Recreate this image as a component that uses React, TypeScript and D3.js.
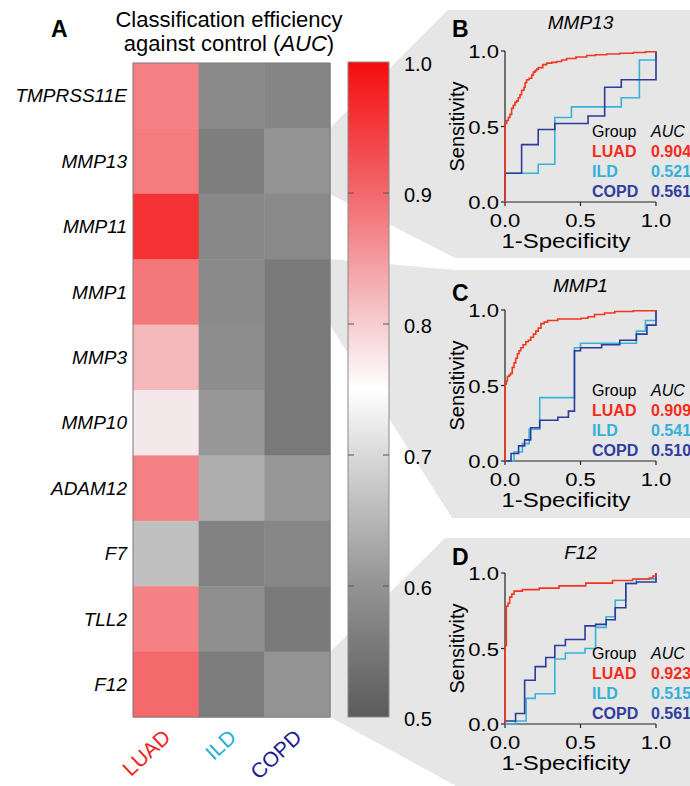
import React from "react";
import * as d3 from "d3";

// heatmap data (AUC vs control)
const genes = ["TMPRSS11E", "MMP13", "MMP11", "MMP1", "MMP3", "MMP10", "ADAM12", "F7", "TLL2", "F12"];
const groups = ["LUAD", "ILD", "COPD"];
const luadAuc = [0.9, 0.904, 0.976, 0.909, 0.846, 0.799, 0.9, 0.644, 0.898, 0.923];
const ildAuc = [0.542, 0.521, 0.538, 0.541, 0.547, 0.566, 0.608, 0.527, 0.549, 0.515];
const copdAuc = [0.532, 0.561, 0.54, 0.51, 0.51, 0.51, 0.566, 0.536, 0.512, 0.561];
const colorbarTicks = [0.5, 0.6, 0.7, 0.8, 0.9, 1.0];

// ROC curves, points are [1-specificity, sensitivity] (step after)
const rocGenes = ["MMP13", "MMP1", "F12"];
const rocLetters = ["B", "C", "D"];
const rocTicks = [0, 0.5, 1];
const luadRoc = [
  [[0, 0], [0, 0.52], [0.011, 0.54], [0.022, 0.56], [0.033, 0.58], [0.044, 0.62], [0.055, 0.64], [0.066, 0.66], [0.077, 0.67], [0.088, 0.69], [0.099, 0.71], [0.11, 0.74], [0.126, 0.76], [0.133, 0.79], [0.143, 0.81], [0.16, 0.82], [0.177, 0.84], [0.188, 0.86], [0.199, 0.87], [0.21, 0.88], [0.221, 0.89], [0.25, 0.91], [0.276, 0.92], [0.31, 0.925], [0.342, 0.93], [0.375, 0.94], [0.408, 0.95], [0.47, 0.96], [0.541, 0.97], [0.6, 0.975], [0.673, 0.98], [0.76, 0.985], [0.85, 0.99], [0.93, 0.995], [1, 1]],
  [[0, 0], [0, 0.51], [0.009, 0.53], [0.016, 0.56], [0.027, 0.57], [0.037, 0.58], [0.048, 0.62], [0.06, 0.65], [0.071, 0.68], [0.082, 0.71], [0.093, 0.73], [0.104, 0.75], [0.12, 0.77], [0.138, 0.79], [0.155, 0.8], [0.171, 0.82], [0.188, 0.84], [0.204, 0.86], [0.22, 0.88], [0.238, 0.91], [0.26, 0.92], [0.282, 0.93], [0.349, 0.94], [0.45, 0.94], [0.504, 0.945], [0.55, 0.955], [0.593, 0.97], [0.66, 0.98], [0.727, 0.99], [0.85, 0.995], [1, 1]],
  [[0, 0], [0, 0.52], [0.009, 0.78], [0.02, 0.8], [0.031, 0.84], [0.045, 0.86], [0.06, 0.88], [0.115, 0.89], [0.226, 0.9], [0.358, 0.915], [0.535, 0.933], [0.712, 0.95], [0.845, 0.96], [0.956, 0.967], [0.98, 0.98], [1, 1]],
];
const ildRoc = [
  [[0, 0], [0, 0.19], [0.22, 0.25], [0.33, 0.56], [0.44, 0.63], [0.77, 0.69], [0.89, 0.94], [1, 1]],
  [[0, 0], [0.06, 0.06], [0.115, 0.115], [0.16, 0.21], [0.23, 0.42], [0.46, 0.75], [0.5, 0.78], [0.87, 0.86], [0.93, 0.93], [1, 1]],
  [[0, 0], [0.07, 0.02], [0.14, 0.17], [0.2, 0.2], [0.33, 0.43], [0.4, 0.47], [0.53, 0.5], [0.6, 0.64], [0.67, 0.71], [0.73, 0.82], [0.8, 0.93], [0.87, 0.96], [1, 1]],
];
const copdRoc = [
  [[0, 0], [0, 0.19], [0.11, 0.38], [0.22, 0.48], [0.33, 0.52], [0.55, 0.57], [0.66, 0.76], [0.77, 0.81], [1, 1]],
  [[0, 0], [0.04, 0.05], [0.09, 0.1], [0.13, 0.14], [0.17, 0.22], [0.23, 0.27], [0.35, 0.29], [0.42, 0.33], [0.46, 0.73], [0.5, 0.75], [0.64, 0.77], [0.76, 0.8], [0.87, 0.84], [0.94, 0.9], [1, 1]],
  [[0, 0], [0, 0.02], [0.07, 0.07], [0.13, 0.29], [0.2, 0.38], [0.27, 0.44], [0.33, 0.52], [0.4, 0.56], [0.53, 0.65], [0.6, 0.66], [0.67, 0.69], [0.73, 0.77], [0.8, 0.93], [0.87, 0.94], [1, 1]],
];
const rocAucLuad = [0.904, 0.909, 0.923];
const rocAucIld = [0.521, 0.541, 0.515];
const rocAucCopd = [0.561, 0.51, 0.561];

const FONT = "'Liberation Sans', Arial, Helvetica, sans-serif";
const W = 690;
const H = 786;

// heatmap geometry
const hm = { left: 133, top: 63, width: 197, height: 654 };
const cb = { left: 348, width: 41, top: 62, bottom: 717 };

const cellColor = d3
  .scaleLinear<string>()
  .domain([0.5, 0.75, 0.8, 0.9, 1.0])
  .range(["#747474", "#f8f8f8", "#f5e8ea", "#f48083", "#f51a1a"])
  .clamp(true);

const barStops = [
  [0.5, "#5b5b5b"],
  [0.6, "#939393"],
  [0.7, "#d9d9d9"],
  [0.75, "#ffffff"],
  [0.8, "#f6cdd1"],
  [0.9, "#f2686d"],
  [1.0, "#f50c0c"],
];

const colLabelColors = ["#f3221a", "#27b0d6", "#1e1c8c"];
const rocColors = ["#f4351f", "#38b2d8", "#2d3b9b"];
const legendColors = ["#f52c1c", "#33b1d8", "#2f3e9e"];

// panel geometry for ROC plots
const panels = [
  { top: 51, letterY: 37, titleY: 29 },
  { top: 310, letterY: 301, titleY: 292 },
  { top: 573, letterY: 565, titleY: 559 },
];
const rocLeft = 505;
const rocSize = 151;

const grayPolys = [
  [[330, 128], [448, 10], [W, 10], [W, 258], [455, 258], [330, 194]],
  [[330, 259], [455, 270], [W, 270], [W, 518], [452, 518], [330, 325]],
  [[330, 652], [445, 538], [W, 538], [W, H], [456, H], [330, 717]],
];

const SText = ({ x, y, sx = 1, children, ...rest }: any) => (
  <g transform={`translate(${x},${y}) scale(${sx},1)`}>
    <text {...rest}>{children}</text>
  </g>
);

const Roc = ({ i }: { i: number }) => {
  const p = panels[i];
  const x = d3.scaleLinear().domain([0, 1]).range([rocLeft, rocLeft + rocSize]);
  const y = d3.scaleLinear().domain([0, 1]).range([p.top + rocSize, p.top]);
  const line = d3
    .line<number[]>()
    .x((d) => x(d[0]))
    .y((d) => y(d[1]))
    .curve(d3.curveStepAfter);
  const bottom = p.top + rocSize;
  const fmt = d3.format(".1f");
  const fmt3 = d3.format(".3f");
  const aucs = [rocAucLuad[i], rocAucIld[i], rocAucCopd[i]];
  const sx = 1.16;
  return (
    <g fontFamily={FONT}>
      <text x={452} y={p.letterY} fontSize={23} fontWeight="bold">
        {rocLetters[i]}
      </text>
      <text x={rocLeft + rocSize / 2} y={p.titleY} fontSize={19} fontStyle="italic" textAnchor="middle">
        {rocGenes[i]}
      </text>
      {/* axes */}
      <line x1={rocLeft} x2={rocLeft} y1={p.top} y2={bottom} stroke="#222" strokeWidth={1.2} />
      <line x1={rocLeft} x2={rocLeft + rocSize} y1={bottom} y2={bottom} stroke="#222" strokeWidth={1.2} />
      {rocTicks.map((t) => (
        <g key={"y" + t}>
          <line x1={rocLeft - 4} x2={rocLeft} y1={y(t)} y2={y(t)} stroke="#222" strokeWidth={1.2} />
          <SText x={rocLeft - 6} y={y(t) + 7} sx={sx} fontSize={19} textAnchor="end">
            {fmt(t)}
          </SText>
        </g>
      ))}
      {rocTicks.map((t) => (
        <g key={"x" + t}>
          <line x1={x(t)} x2={x(t)} y1={bottom} y2={bottom + 4} stroke="#222" strokeWidth={1.2} />
          <SText x={x(t)} y={bottom + 25} sx={sx} fontSize={19} textAnchor="middle">
            {fmt(t)}
          </SText>
        </g>
      ))}
      <SText x={rocLeft + 61} y={bottom + 46} sx={1.14} fontSize={21} fontWeight="normal" textAnchor="middle">
        1-Specificity
      </SText>
      <text
        transform={`translate(${rocLeft - 41},${p.top + rocSize / 2}) rotate(-90)`}
        fontSize={20}
        textAnchor="middle"
      >
        Sensitivity
      </text>
      {/* curves */}
      <path d={line(ildRoc[i] as any) || ""} fill="none" stroke={rocColors[1]} strokeWidth={1.6} />
      <path d={line(copdRoc[i] as any) || ""} fill="none" stroke={rocColors[2]} strokeWidth={1.6} />
      <path d={line(luadRoc[i] as any) || ""} fill="none" stroke={rocColors[0]} strokeWidth={1.6} />
      {/* legend */}
      <text x={rocLeft + 87} y={p.top + 86} fontSize={16}>
        Group
      </text>
      <text x={rocLeft + 146} y={p.top + 86} fontSize={16} fontStyle="italic">
        AUC
      </text>
      {groups.map((g, k) => (
        <g key={g} fontWeight="bold" fontSize={16} fill={legendColors[k]}>
          <text x={rocLeft + 87} y={p.top + 106 + k * 20}>
            {g}
          </text>
          <text x={rocLeft + 146} y={p.top + 106 + k * 20}>
            {fmt3(aucs[k])}
          </text>
        </g>
      ))}
    </g>
  );
};

export default function App() {
  const rowBand = d3.scaleBand<string>().domain(genes).range([hm.top, hm.top + hm.height]);
  const colBand = d3.scaleBand<string>().domain(groups).range([hm.left, hm.left + hm.width]);
  const cbScale = d3.scaleLinear().domain([0.5, 1]).range([cb.bottom, cb.top]);
  const series = [luadAuc, ildAuc, copdAuc];

  return (
    <svg
      width={W}
      height={H}
      style={{ position: "absolute", left: 0, top: 0, display: "block", background: "#fff" }}
      fontFamily={FONT}
    >
      <defs>
        <linearGradient id="cbGrad" x1="0" y1="1" x2="0" y2="0">
          {barStops.map(([v, c]) => (
            <stop key={String(v)} offset={`${(((v as number) - 0.5) / 0.5) * 100}%`} stopColor={c as string} />
          ))}
        </linearGradient>
      </defs>

      {grayPolys.map((pts, i) => (
        <polygon key={i} points={pts.map((q) => q.join(",")).join(" ")} fill="#e6e6e6" />
      ))}

      {/* panel A */}
      <text x={51} y={37} fontSize={23} fontWeight="bold">
        A
      </text>
      <text x={229} y={27} fontSize={22} textAnchor="middle">
        Classification efficiency
      </text>
      <text x={229} y={51} fontSize={22} textAnchor="middle">
        against control (<tspan fontStyle="italic">AUC</tspan>)
      </text>

      {genes.map((g, r) =>
        groups.map((grp, c) => (
          <rect
            key={g + grp}
            x={colBand(grp)}
            y={rowBand(g)}
            width={colBand.bandwidth() + 0.5}
            height={rowBand.bandwidth() + 0.5}
            fill={cellColor(series[c][r])}
          />
        ))
      )}
      <rect x={hm.left} y={hm.top} width={hm.width} height={hm.height} fill="none" stroke="#7a7a7a" strokeWidth={1} />

      {genes.map((g) => (
        <text
          key={g}
          x={127}
          y={(rowBand(g) as number) + rowBand.bandwidth() / 2}
          dy="0.35em"
          fontSize={19}
          fontStyle="italic"
          textAnchor="end"
        >
          {g}
        </text>
      ))}

      {groups.map((grp, c) => (
        <text
          key={grp}
          transform={`translate(${(colBand(grp) as number) + colBand.bandwidth() / 2 + 6},739) rotate(-43)`}
          fontSize={21}
          textAnchor="end"
          fill={colLabelColors[c]}
        >
          {grp}
        </text>
      ))}

      {/* colour bar */}
      <rect x={cb.left} y={cb.top} width={cb.width} height={cb.bottom - cb.top} fill="url(#cbGrad)" stroke="#8a8a8a" strokeWidth={1} />
      {colorbarTicks.map((t) => (
        <g key={t}>
          {t > 0.5 && t < 1 && (
            <>
              <line x1={cb.left} x2={cb.left + 6} y1={cbScale(t)} y2={cbScale(t)} stroke="#555" strokeWidth={1} />
              <line x1={cb.left + cb.width - 6} x2={cb.left + cb.width} y1={cbScale(t)} y2={cbScale(t)} stroke="#555" strokeWidth={1} />
            </>
          )}
          <text x={404} y={cbScale(t) + 2} dy="0.35em" fontSize={20}>
            {d3.format(".1f")(t)}
          </text>
        </g>
      ))}

      {[0, 1, 2].map((i) => (
        <Roc key={i} i={i} />
      ))}
    </svg>
  );
}
